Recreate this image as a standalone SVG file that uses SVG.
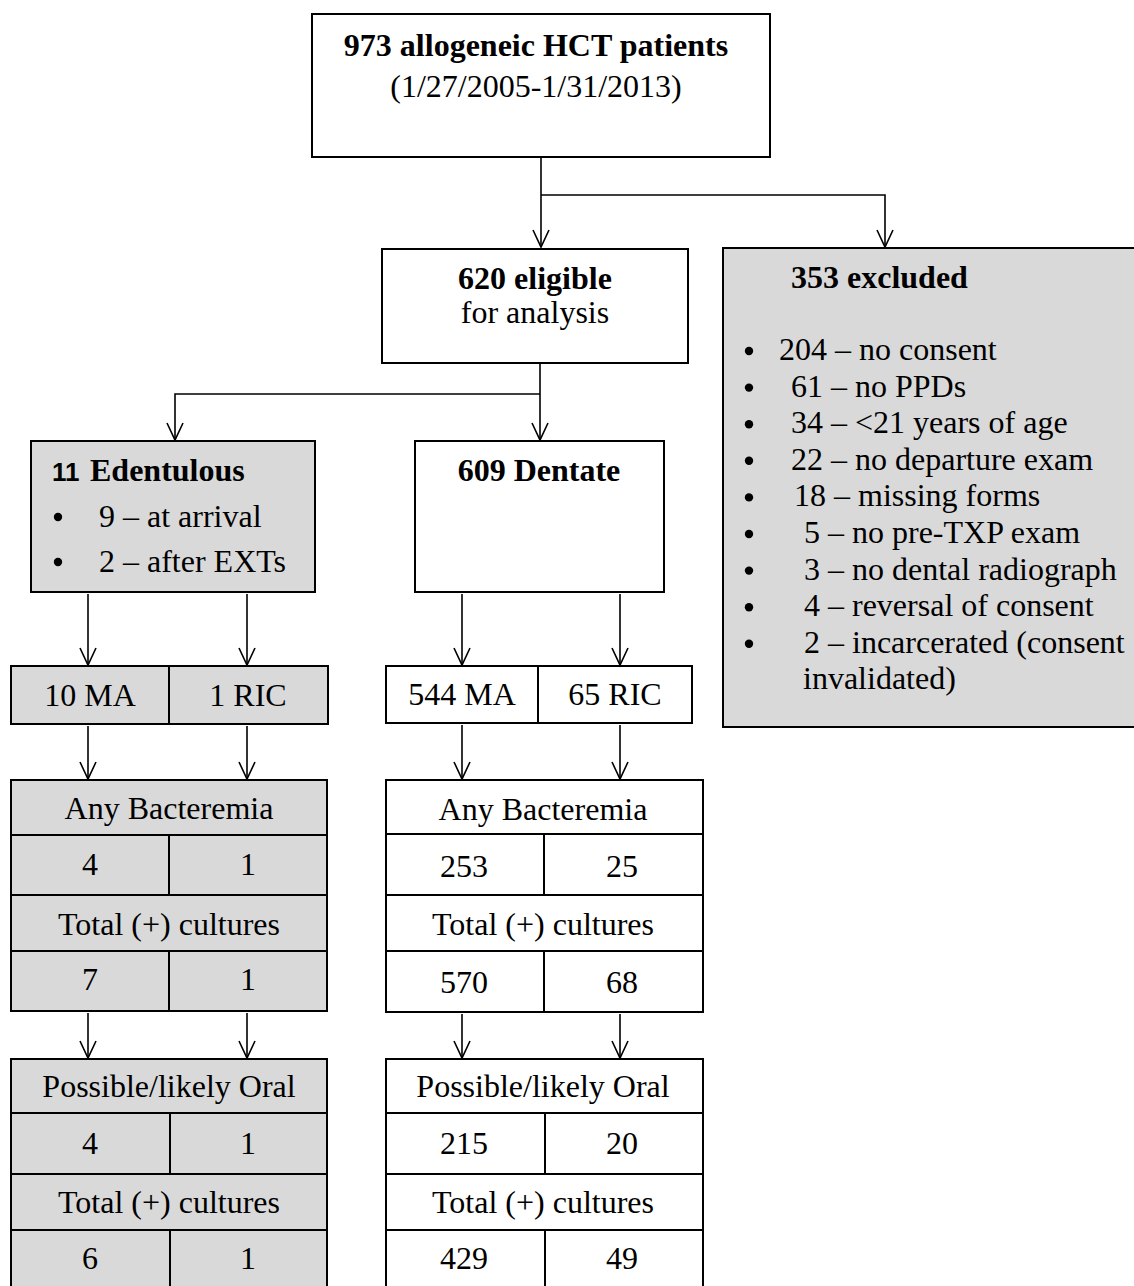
<svg xmlns="http://www.w3.org/2000/svg" width="1134" height="1286" viewBox="0 0 1134 1286">
<style>
text{font-family:"Liberation Serif","Times New Roman",serif;font-size:32px;fill:#000}
.b{font-weight:bold}
.c{text-anchor:middle}
.box{fill:#fff;stroke:#000;stroke-width:2}
.g{fill:#d9d9d9}
.ln{stroke:#000;stroke-width:2;fill:none}
.con{stroke:#000;stroke-width:1.6;fill:none}
.dot{fill:#000}
</style>
<defs>
<marker id="arr" viewBox="-20 -10 22 20" markerWidth="22" markerHeight="20" refX="0" refY="0" markerUnits="userSpaceOnUse" orient="auto" overflow="visible">
<path d="M-17,-8 L0,0 L-17,8" fill="none" stroke="#000" stroke-width="1.6"/>
</marker>
</defs>
<rect width="1134" height="1286" fill="#fff"/>

<g id="connectors">
<path class="con" d="M541,157 V195" stroke-width="2.4"/>
<path class="con" d="M541,195 V247" marker-end="url(#arr)"/>
<path class="con" d="M541,195 H885 V247" marker-end="url(#arr)"/>
<path class="con" d="M540,363 V440" marker-end="url(#arr)"/>
<path class="con" d="M540,394 H175 V440" marker-end="url(#arr)"/>
<path class="con" d="M88,594 V665" marker-end="url(#arr)"/>
<path class="con" d="M247,594 V665" marker-end="url(#arr)"/>
<path class="con" d="M462,594 V665" marker-end="url(#arr)"/>
<path class="con" d="M620,594 V665" marker-end="url(#arr)"/>
<path class="con" d="M88,726 V779" marker-end="url(#arr)"/>
<path class="con" d="M247,726 V779" marker-end="url(#arr)"/>
<path class="con" d="M462,725 V779" marker-end="url(#arr)"/>
<path class="con" d="M620,725 V779" marker-end="url(#arr)"/>
<path class="con" d="M88,1013 V1058" marker-end="url(#arr)"/>
<path class="con" d="M247,1013 V1058" marker-end="url(#arr)"/>
<path class="con" d="M462,1014 V1058" marker-end="url(#arr)"/>
<path class="con" d="M620,1014 V1058" marker-end="url(#arr)"/>
</g>

<g id="n-total">
<rect class="box" x="312" y="14" width="458" height="143"/>
<text class="b c" x="536" y="56">973 allogeneic HCT patients</text>
<text class="c" x="536" y="97">(1/27/2005-1/31/2013)</text>
</g>

<g id="n-eligible">
<rect class="box" x="382" y="249" width="306" height="114"/>
<text class="b c" x="535" y="289">620 eligible</text>
<text class="c" x="535" y="323">for analysis</text>
</g>

<g id="n-excluded">
<rect class="box g" x="723" y="248" width="420" height="479"/>
<text class="b" x="791" y="288">353 excluded</text>
<circle class="dot" cx="749" cy="351" r="4.2"/><text x="779" y="360">204 – no consent</text>
<circle class="dot" cx="749" cy="387.6" r="4.2"/><text x="791" y="396.6">61 – no PPDs</text>
<circle class="dot" cx="749" cy="424.2" r="4.2"/><text x="791" y="433.2">34 – &lt;21 years of age</text>
<circle class="dot" cx="749" cy="460.8" r="4.2"/><text x="791" y="469.8">22 – no departure exam</text>
<circle class="dot" cx="749" cy="497.4" r="4.2"/><text x="794" y="506.4">18 – missing forms</text>
<circle class="dot" cx="749" cy="534" r="4.2"/><text x="804" y="543">5 – no pre-TXP exam</text>
<circle class="dot" cx="749" cy="570.6" r="4.2"/><text x="804" y="579.6">3 – no dental radiograph</text>
<circle class="dot" cx="749" cy="607.2" r="4.2"/><text x="804" y="616.2">4 – reversal of consent</text>
<circle class="dot" cx="749" cy="643.8" r="4.2"/><text x="804" y="652.8">2 – incarcerated (consent</text>
<text x="803" y="689.4">invalidated)</text>
</g>

<g id="n-edentulous">
<rect class="box g" x="31" y="441" width="284" height="151"/>
<text x="52" y="481" class="b"><tspan style="font-family:'Liberation Sans',Arial,sans-serif;font-size:26px">11</tspan><tspan x="90">Edentulous</tspan></text>
<circle class="dot" cx="58" cy="517" r="4.2"/><text x="99" y="527">9 – at arrival</text>
<circle class="dot" cx="58" cy="562" r="4.2"/><text x="99" y="572">2 – after EXTs</text>
</g>

<g id="n-dentate">
<rect class="box" x="415" y="441" width="249" height="151"/>
<text class="b c" x="539" y="481">609 Dentate</text>
</g>

<g id="n-edent-regimen">
<rect class="box g" x="11" y="666" width="317" height="58"/>
<path class="ln" d="M169,666 V724"/>
<text class="c" x="90" y="706">10 MA</text>
<text class="c" x="248" y="706">1 RIC</text>
</g>

<g id="n-dent-regimen">
<rect class="box" x="386" y="666" width="306" height="57"/>
<path class="ln" d="M538,666 V723"/>
<text class="c" x="462" y="705">544 MA</text>
<text class="c" x="615" y="705">65 RIC</text>
</g>

<g id="n-edent-bact">
<rect class="box g" x="11" y="780" width="316" height="231"/>
<path class="ln" d="M11,835 H327 M11,895 H327 M11,951 H327 M169,835 V895 M169,951 V1011"/>
<text class="c" x="169" y="819">Any Bacteremia</text>
<text class="c" x="90" y="875">4</text>
<text class="c" x="248" y="875">1</text>
<text class="c" x="169" y="935">Total (+) cultures</text>
<text class="c" x="90" y="990">7</text>
<text class="c" x="248" y="990">1</text>
</g>

<g id="n-dent-bact">
<rect class="box" x="386" y="780" width="317" height="232"/>
<path class="ln" d="M386,834 H703 M386,895 H703 M386,951 H703 M544,834 V895 M544,951 V1012"/>
<text class="c" x="543" y="820">Any Bacteremia</text>
<text class="c" x="464" y="877">253</text>
<text class="c" x="622" y="877">25</text>
<text class="c" x="543" y="935">Total (+) cultures</text>
<text class="c" x="464" y="993">570</text>
<text class="c" x="622" y="993">68</text>
</g>

<g id="n-edent-oral">
<rect class="box g" x="11" y="1059" width="316" height="240"/>
<path class="ln" d="M11,1113 H327 M11,1174 H327 M11,1230 H327 M170,1113 V1174 M170,1230 V1290"/>
<text class="c" x="169" y="1097">Possible/likely Oral</text>
<text class="c" x="90" y="1154">4</text>
<text class="c" x="248" y="1154">1</text>
<text class="c" x="169" y="1213">Total (+) cultures</text>
<text class="c" x="90" y="1269">6</text>
<text class="c" x="248" y="1269">1</text>
</g>

<g id="n-dent-oral">
<rect class="box" x="386" y="1059" width="317" height="240"/>
<path class="ln" d="M386,1113 H703 M386,1174 H703 M386,1230 H703 M545,1113 V1174 M545,1230 V1290"/>
<text class="c" x="543" y="1097">Possible/likely Oral</text>
<text class="c" x="464" y="1154">215</text>
<text class="c" x="622" y="1154">20</text>
<text class="c" x="543" y="1213">Total (+) cultures</text>
<text class="c" x="464" y="1269">429</text>
<text class="c" x="622" y="1269">49</text>
</g>
</svg>
